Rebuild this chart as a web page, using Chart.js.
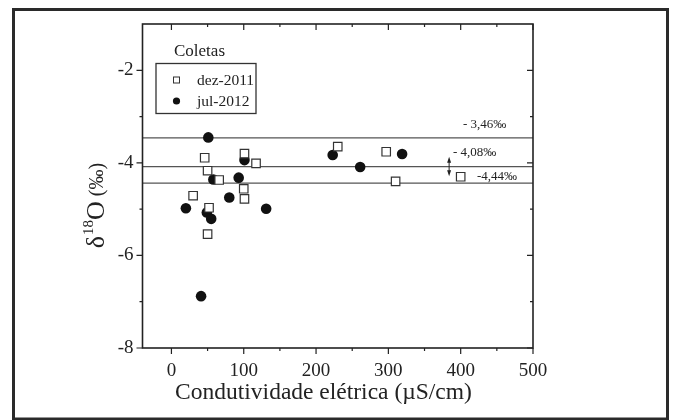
<!DOCTYPE html>
<html>
<head>
<meta charset="utf-8">
<script src="https://cdn.jsdelivr.net/npm/chart.js@4.4.0/dist/chart.umd.min.js"></script>
<style>
  html, body { margin: 0; padding: 0; background: #fff; }
  #wrap { width: 673px; height: 420px; }
</style>
</head>
<body>
<div id="wrap"><canvas id="isoChart" width="673" height="420"></canvas></div>
<script>
// ===== DATA ===== //
const seriesNames = ['dez-2011', 'jul-2012'];

const dezX = [30, 46, 50, 52, 50, 66, 101, 100, 101, 117, 230, 297, 310, 400];
const dezY = [-4.71, -3.89, -4.17, -4.97, -5.54, -4.37, -3.80, -4.56, -4.78, -4.01, -3.65, -3.76, -4.40, -4.30];

const julX = [20, 51, 49, 55, 58, 41, 80, 93, 101, 131, 223, 261, 319];
const julY = [-4.98, -3.45, -5.07, -5.21, -4.36, -6.88, -4.75, -4.32, -3.94, -4.99, -3.83, -4.09, -3.81];

const refLevels = [-3.46, -4.08, -4.44];
const refLabels = ['- 3,46‰', '- 4,08‰', '-4,44‰'];

const xTicks = [0, 100, 200, 300, 400, 500];
const xMinor = [50, 150, 250, 350, 450];
const yTicks = [-8, -6, -4, -2];
const yMinor = [-7, -5, -3];

const xMin = -40, xMax = 500, yMin = -8, yMax = -1;

const SERIF = '"Liberation Serif", "DejaVu Serif", serif';
const INK = '#222';

// ===== DECORATION PLUGIN ===== //
const decor = {
    id: 'decor',
    beforeDraw(chart) {
        const ctx = chart.ctx;
        ctx.save();
        ctx.fillStyle = '#fff';
        ctx.fillRect(0, 0, chart.width, chart.height);
        // outer frame
        ctx.strokeStyle = '#2a2a2a';
        ctx.lineWidth = 3;
        ctx.strokeRect(13.5, 9.5, 654, 409.5);
        ctx.restore();
    },
    afterDraw(chart) {
        const ctx = chart.ctx;
        const a = chart.chartArea;
        const xs = chart.scales.x, ys = chart.scales.y;
        ctx.save();

        // axes box
        ctx.strokeStyle = INK;
        ctx.lineWidth = 1.6;
        ctx.strokeRect(a.left, a.top, a.right - a.left, a.bottom - a.top);

        // ticks: outward on bottom/left, inward on top/right
        ctx.lineWidth = 1.2;
        ctx.beginPath();
        const tick = (vals, len) => {
            vals.forEach(v => {
                const px = xs.getPixelForValue(v);
                ctx.moveTo(px, a.bottom); ctx.lineTo(px, a.bottom + len);
                ctx.moveTo(px, a.top); ctx.lineTo(px, a.top + len);
            });
        };
        const ytick = (vals, len) => {
            vals.forEach(v => {
                const py = ys.getPixelForValue(v);
                ctx.moveTo(a.left, py); ctx.lineTo(a.left - len, py);
                ctx.moveTo(a.right, py); ctx.lineTo(a.right - len, py);
            });
        };
        tick(xTicks, 6); tick(xMinor, 3);
        ytick(yTicks, 6); ytick(yMinor, 3);
        ctx.stroke();

        // level labels
        ctx.fillStyle = INK;
        ctx.font = '13px ' + SERIF;
        ctx.textBaseline = 'middle';
        ctx.textAlign = 'left';
        const labelPos = [[463, 125], [453, 153], [477, 177]];
        refLabels.forEach((t, i) => ctx.fillText(t, labelPos[i][0], labelPos[i][1]));

        // double arrow between levels
        const ax = xs.getPixelForValue(384);
        const ay1 = ys.getPixelForValue(-3.87), ay2 = ys.getPixelForValue(-4.29);
        ctx.strokeStyle = INK;
        ctx.lineWidth = 1;
        ctx.beginPath();
        ctx.moveTo(ax, ay1 + 3); ctx.lineTo(ax, ay2 - 3);
        ctx.stroke();
        ctx.beginPath();
        ctx.moveTo(ax, ay1); ctx.lineTo(ax - 2, ay1 + 6); ctx.lineTo(ax + 2, ay1 + 6); ctx.closePath();
        ctx.moveTo(ax, ay2); ctx.lineTo(ax - 2, ay2 - 6); ctx.lineTo(ax + 2, ay2 - 6); ctx.closePath();
        ctx.fill();

        // legend
        ctx.font = '17px ' + SERIF;
        ctx.fillText('Coletas', 174, 52);
        ctx.lineWidth = 1.3;
        ctx.strokeStyle = '#333';
        ctx.strokeRect(156, 63.5, 100, 50);
        ctx.font = '15.5px ' + SERIF;
        const ds = chart.data.datasets;
        [80, 101].forEach((ly, i) => {
            if (i === 0) {
                ctx.fillStyle = '#fff';
                ctx.fillRect(173, ly - 3, 6, 6);
                ctx.strokeStyle = '#333';
                ctx.lineWidth = 1;
                ctx.strokeRect(173.5, ly - 3, 6, 6);
            } else {
                ctx.fillStyle = '#111';
                ctx.beginPath();
                ctx.arc(176.5, ly, 3.6, 0, Math.PI * 2);
                ctx.fill();
            }
            ctx.fillStyle = INK;
            ctx.fillText(ds[i].label, 197, ly + 1);
        });

        // x title
        ctx.textAlign = 'center';
        ctx.font = '23.5px ' + SERIF;
        ctx.fillText('Condutividade elétrica (µS/cm)', 323.5, 393);

        // y title, rotated, with superscript
        ctx.save();
        ctx.translate(104, 206);
        ctx.rotate(-Math.PI / 2);
        ctx.textAlign = 'left';
        ctx.textBaseline = 'alphabetic';
        const big = '26px ' + SERIF, sup = '15px ' + SERIF, small = '20px ' + SERIF;
        ctx.font = big; const w1 = ctx.measureText('δ').width;
        ctx.font = sup; const w2 = ctx.measureText('18').width;
        ctx.font = big; const w3 = ctx.measureText('O').width;
        ctx.font = small; const w4 = ctx.measureText(' (‰)').width;
        let cx = -(w1 + w2 + w3 + w4) / 2;
        ctx.font = big; ctx.fillText('δ', cx, 0); cx += w1 + 1;
        ctx.font = sup; ctx.fillText('18', cx, -11); cx += w2;
        ctx.font = big; ctx.fillText('O', cx, 0); cx += w3;
        ctx.font = small; ctx.fillText(' (‰)', cx, -1);
        ctx.restore();

        ctx.restore();
    }
};

// ===== CHART ===== //
const toPoints = (xs, ys) => xs.map((x, i) => ({ x: x, y: ys[i] }));

const levelSets = refLevels.map(v => ({
    type: 'line',
    data: [{ x: xMin, y: v }, { x: xMax, y: v }],
    borderColor: '#555',
    borderWidth: 1.3,
    pointRadius: 0,
    fill: false
}));

new Chart(document.getElementById('isoChart'), {
    type: 'scatter',
    data: {
        datasets: [
            {
                label: seriesNames[0],
                data: toPoints(dezX, dezY),
                pointStyle: 'rect',
                pointRadius: 6,
                backgroundColor: '#fff',
                borderColor: '#333',
                borderWidth: 1.2
            },
            {
                label: seriesNames[1],
                data: toPoints(julX, julY),
                pointStyle: 'circle',
                pointRadius: 5.3,
                backgroundColor: '#111',
                borderColor: '#111',
                borderWidth: 0
            },
            ...levelSets
        ]
    },
    options: {
        responsive: false,
        animation: false,
        devicePixelRatio: 1,
        layout: { padding: { left: 0, right: 140, top: 24, bottom: 0 } },
        plugins: { legend: { display: false }, tooltip: { enabled: false } },
        scales: {
            x: {
                type: 'linear',
                min: xMin, max: xMax,
                afterFit(s) { s.height = 72; },
                afterBuildTicks(s) { s.ticks = xTicks.map(v => ({ value: v })); },
                grid: { display: false, drawTicks: false },
                border: { display: false },
                ticks: { padding: 12, color: INK, font: { family: SERIF, size: 19 }, maxRotation: 0 }
            },
            y: {
                type: 'linear',
                min: yMin, max: yMax,
                afterFit(s) { s.width = 142.5; },
                afterBuildTicks(s) { s.ticks = yTicks.map(v => ({ value: v })); },
                grid: { display: false, drawTicks: false },
                border: { display: false },
                ticks: { padding: 9, color: INK, font: { family: SERIF, size: 19 } }
            }
        }
    },
    plugins: [decor]
});
</script>
</body>
</html>
